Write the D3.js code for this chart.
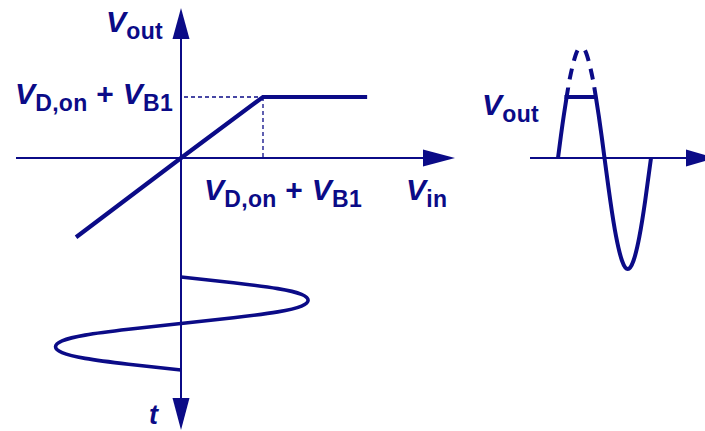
<!DOCTYPE html>
<html>
<head>
<meta charset="utf-8">
<script src="https://cdn.jsdelivr.net/npm/d3@7/dist/d3.min.js"></script>
<style>
  html, body { margin: 0; padding: 0; background: #fff; }
  svg { display: block; }
  text { font-family: "Liberation Sans", Arial, Helvetica, sans-serif; font-weight: bold; fill: #0b0b87; }
</style>
</head>
<body>
<script>
// Diode clipper: transfer characteristic, sinusoidal input, clipped output.
// Units: input/output in multiples of (VD,on + VB1); time in input periods.

// Transfer characteristic Vout(Vin)
const transferVin  = [-1.28, 0, 1, 2.27];
const transferVout = [-1.30, 0, 1, 1];

// Knee marker level (VD,on + VB1)
const kneeLevel = 1;

// Input sine, drawn downward along the time axis
const inputT   = [0, 0.0625, 0.125, 0.1875, 0.25, 0.3125, 0.375, 0.4375, 0.5,
                  0.5625, 0.625, 0.6875, 0.75, 0.8125, 0.875, 0.9375, 1];
const inputVin = [0, 0.64, 1.18, 1.47, 1.55, 1.47, 1.18, 0.64, 0,
                  -0.64, -1.17, -1.45, -1.53, -1.45, -1.17, -0.64, 0];

// Output: rising edge up to the top of the solid trace
const outRiseT = [0, 0.031, 0.0625, 0.094, 0.11];
const outRiseV = [0, 0.36, 0.70, 1.01, 1.16];

// Output: unclipped peak (dashed)
const outPeakT = [0.11, 0.125, 0.1875, 0.25, 0.3125, 0.375, 0.39];
const outPeakV = [1.16, 1.29, 1.68, 1.82, 1.68, 1.29, 1.16];

// Output: falling edge and negative half cycle
const outFallT = [0.39, 0.406, 0.4375, 0.469, 0.5, 0.5625, 0.625, 0.6875, 0.75, 0.8125, 0.875, 0.9375, 1];
const outFallV = [1.16, 1.01, 0.70, 0.36, 0, -0.70, -1.29, -1.68, -1.82, -1.68, -1.29, -0.70, 0];

// Output: clipped level
const outClipT = [0.07, 0.42];
const outClipV = [1, 1];

const W = 705, H = 431;
const INK = "#0b0b87";

const svg = d3.select("body").append("svg")
  .attr("width", W).attr("height", H)
  .attr("viewBox", `0 0 ${W} ${H}`);

svg.append("rect").attr("width", W).attr("height", H).attr("fill", "#fff");

// ---- scales ----
const vinX  = d3.scaleLinear().domain([0, 1]).range([181, 263]);
const voutY = d3.scaleLinear().domain([0, 1]).range([158, 97]);
const tinY  = d3.scaleLinear().domain([0, 1]).range([277, 370]);
const toutX = d3.scaleLinear().domain([0, 1]).range([558, 651]);
const outY  = d3.scaleLinear().domain([0, 1]).range([158, 97]);

const ox = vinX(0), oy = voutY(0);

// ---- axes with arrowheads ----
function arrowHead(tipX, tipY, dir, len, half) {
  // dir: unit vector pointing toward the tip
  const [dx, dy] = dir;
  const bx = tipX - dx * len, by = tipY - dy * len;
  const px = -dy * half, py = dx * half;
  svg.append("path")
    .attr("d", `M${tipX},${tipY}L${bx + px},${by + py}L${bx - px},${by - py}Z`)
    .attr("fill", INK);
}

const axes = svg.append("g").attr("stroke", INK).attr("stroke-width", 2).attr("fill", "none");
// horizontal Vin axis
axes.append("line").attr("x1", 16).attr("y1", oy).attr("x2", 430).attr("y2", oy);
arrowHead(455, oy, [1, 0], 32, 8.5);
// vertical Vout axis up, time axis down
axes.append("line").attr("x1", ox).attr("y1", 34).attr("x2", ox).attr("y2", 404);
arrowHead(ox, 8, [0, -1], 31, 8.5);
arrowHead(ox, 430, [0, 1], 32, 8.5);
// output time axis
axes.append("line").attr("x1", 530).attr("y1", outY(0)).attr("x2", 695).attr("y2", outY(0));
arrowHead(716, outY(0), [1, 0], 30, 8.5);

// ---- knee guide lines ----
const guides = svg.append("g").attr("stroke", INK).attr("stroke-width", 1.3)
  .attr("stroke-dasharray", "4,3").attr("fill", "none");
guides.append("line")
  .attr("x1", ox + 3).attr("y1", voutY(kneeLevel))
  .attr("x2", vinX(kneeLevel)).attr("y2", voutY(kneeLevel));
guides.append("line")
  .attr("x1", vinX(kneeLevel)).attr("y1", voutY(kneeLevel))
  .attr("x2", vinX(kneeLevel)).attr("y2", oy);

// ---- transfer characteristic ----
const transfer = transferVin.map((v, i) => [v, transferVout[i]]);
svg.append("path")
  .datum(transfer)
  .attr("d", d3.line().x(d => vinX(d[0])).y(d => voutY(d[1])))
  .attr("fill", "none").attr("stroke", INK).attr("stroke-width", 4.2)
  .attr("stroke-linejoin", "miter");

// ---- input sine along time axis ----
const input = inputT.map((t, i) => [t, inputVin[i]]);
svg.append("path")
  .datum(input)
  .attr("d", d3.line().x(d => vinX(d[1])).y(d => tinY(d[0])).curve(d3.curveNatural))
  .attr("fill", "none").attr("stroke", INK).attr("stroke-width", 3.6);

// ---- output waveform ----
const outLine = d3.line().x(d => toutX(d[0])).y(d => outY(d[1])).curve(d3.curveNatural);
const pair = (ts, vs) => ts.map((t, i) => [t, vs[i]]);

const solid = svg.append("g").attr("fill", "none").attr("stroke", INK).attr("stroke-width", 4);
solid.append("path").datum(pair(outRiseT, outRiseV)).attr("d", outLine);
solid.append("path").datum(pair(outFallT, outFallV)).attr("d", outLine);
solid.append("path").datum(pair(outClipT, outClipV))
  .attr("d", d3.line().x(d => toutX(d[0])).y(d => outY(d[1])));

const peak = svg.append("path").datum(pair(outPeakT, outPeakV))
  .attr("d", outLine)
  .attr("fill", "none").attr("stroke", INK).attr("stroke-width", 4);
const L = peak.node().getTotalLength();
const gap = 8, dash = 11;
const mid = Math.max(2, L - 2 * (2 * gap + 2 * dash));
peak.attr("stroke-dasharray", [0, gap, dash, gap, dash, mid, dash, gap, dash, gap].join(","));

// ---- labels ----
const BIG = 30, SUB = 23, DROP = 7;
function label(x, y, main, sub, anchor, extra) {
  const t = svg.append("text").attr("x", x).attr("y", y)
    .attr("text-anchor", anchor || "start").attr("letter-spacing", 0.3);
  t.append("tspan").attr("font-style", "italic").attr("font-size", BIG).text(main);
  t.append("tspan").attr("font-size", SUB).attr("dy", DROP).text(sub);
  if (extra) {
    t.append("tspan").attr("font-size", BIG).attr("dy", -DROP).text(" + ");
    t.append("tspan").attr("font-style", "italic").attr("font-size", BIG).text(extra[0]);
    t.append("tspan").attr("font-size", SUB).attr("dy", DROP).text(extra[1]);
  }
  return t;
}

label(106, 32, "V", "out");
label(173, 104, "V", "D,on", "end", ["V", "B1"]);
label(204, 200, "V", "D,on", "start", ["V", "B1"]);
label(406, 200, "V", "in");
label(482, 115, "V", "out");
svg.append("text").attr("x", 149).attr("y", 424)
  .attr("font-style", "italic").attr("font-size", 27).text("t");
</script>
</body>
</html>
